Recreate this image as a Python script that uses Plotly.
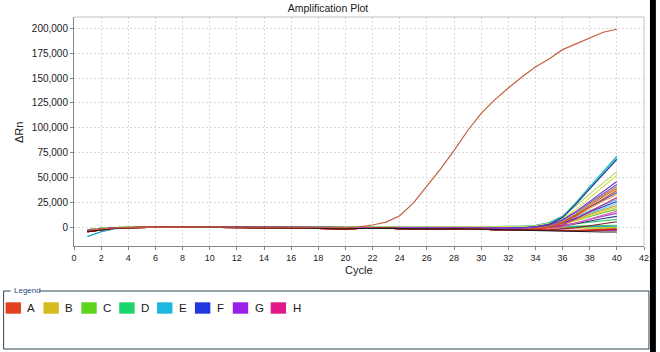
import plotly.graph_objects as go

# ---------------- data ----------------
CYCLES = [1, 2, 3, 4, 5, 6, 7, 8, 9, 10, 11, 12, 13, 14, 15, 16, 17, 18, 19, 20,
          21, 22, 23, 24, 25, 26, 27, 28, 29, 30, 31, 32, 33, 34, 35, 36, 37, 38, 39, 40]

# the strongly amplifying well
BIG_CURVE = [-2500, -1200, -500, -100, 100, 200, 200, 200, 200, 200, 200, 200, 0, 0, -100, -100,
             -100, -300, -300, -200, 500, 2300, 5200, 11600, 24200, 41000, 58500, 77000, 97000,
             114500, 128000, 140000, 151000, 161000, 169000, 178500, 184500, 190500, 196000, 199000]
BIG_COLOR = "#c4603e"

# baselines, cycles 1-32
BASE_LOW = [-4500, -2400, -1000, -300, 0, 100, 100, 0, 0, 0, 0, 0, -300, -400, -400, -500, -600,
            -1200, -1600, -1700, -1200, -900, -900, -1300, -1700, -1900, -1800, -1500, -1400,
            -1900, -2300, -2600]
BASE_MID = [-3300, -1700, -600, -200, 0, 100, 100, 100, 100, 50, 0, 0, -100, -200, -200, -200,
            -300, -500, -700, -700, -500, -300, -300, -400, -600, -600, -600, -500, -400, -600,
            -800, -900]
BASE_HIGH = [-2600, -1000, -300, 0, 200, 200, 200, 200, 200, 200, 200, 200, 100, 0, 0, 0, 0, 100,
             100, 100, 200, 300, 300, 300, 300, 400, 400, 400, 500, 600, 800, 700]
BASE_DIP = [-9200, -4400, -1500, -400, 0, 100, 100, 100, 100, 100, 100, 100, 0, 0, 0, 0, 0, -100,
            -100, -100, 0, 100, 100, 100, 100, 200, 200, 200, 300, 400, 500, 400]
BASES = {"low": BASE_LOW, "mid": BASE_MID, "high": BASE_HIGH, "dip": BASE_DIP}

# late wells per row: colour, baseline, values for cycles 33-40
ROW_A = [("#e07828", "low", [-2300, -1200, 1000, 5500, 13500, 23500, 32500, 41000]),
         ("#b86a30", "low", [-2400, -1500, 500, 5000, 12500, 22000, 31000, 39000]),
         ("#e04820", "low", [-2500, -1700, 0, 4200, 11500, 20500, 29000, 37000]),
         ("#7c2030", "low", [-2700, -2800, -2600, -1800, -300, 1500, 3500, 5600]),
         ("#e02818", "low", [-2800, -3000, -3100, -3100, -2900, -2500, -2000, -1500]),
         ("#c82010", "low", [-2800, -3000, -3300, -3500, -3400, -3200, -2900, -2500])]
ROW_B = [("#d8e040", "high", [500, 1500, 3800, 8800, 18000, 29500, 41000, 52000]),
         ("#f0a030", "mid", [-700, 0, 1500, 4800, 11000, 19000, 26500, 33000]),
         ("#b0a020", "mid", [-600, -100, 1000, 3200, 7500, 13000, 17800, 22000]),
         ("#e0d030", "mid", [-600, -100, 900, 2900, 6800, 11800, 16200, 20000]),
         ("#d8c818", "mid", [-800, -800, -800, -900, -700, -500, -300, 0])]
ROW_C = [("#a8e060", "high", [800, 2000, 4800, 11000, 21500, 33500, 45000, 56000]),
         ("#60c840", "high", [700, 1000, 1800, 3600, 6800, 10800, 14600, 18000]),
         ("#70e030", "high", [700, 700, 700, 700, 800, 900, 900, 1000]),
         ("#58d018", "high", [500, 300, 100, -200, -500, -700, -900, -1000])]
ROW_D = [("#40d070", "high", [700, 900, 1300, 2200, 3600, 5200, 6700, 8000]),
         ("#30c860", "high", [700, 800, 900, 1000, 1200, 1400, 1700, 2000]),
         ("#20c050", "high", [600, 600, 500, 500, 500, 500, 500, 500]),
         ("#40e090", "high", [500, 300, 100, -100, -200, -300, -400, -500])]
ROW_E = [("#22b4b4", "dip", [600, 1800, 4500, 11000, 25000, 41000, 56500, 71600]),
         ("#30c8e8", "high", [800, 1700, 4000, 10000, 23500, 39500, 55000, 70000]),
         ("#40b0e0", "high", [800, 1300, 2600, 5500, 10500, 16500, 22500, 28000]),
         ("#70c8f0", "high", [700, 1100, 2200, 4700, 9000, 14200, 19300, 24000]),
         ("#20a8d8", "dip", [400, 400, 400, 500, 600, 700, 800, 1000])]
ROW_F = [("#1c2c80", "mid", [-600, 400, 3000, 9800, 23500, 38500, 53500, 68300]),
         ("#4060e0", "mid", [-700, 300, 2500, 7000, 15000, 24500, 34000, 43000]),
         ("#3050d8", "mid", [-700, 100, 1700, 5500, 12500, 20500, 28000, 35000]),
         ("#2040d0", "mid", [-700, 0, 1200, 4000, 9200, 15300, 21000, 26000]),
         ("#283890", "mid", [-900, -600, 0, 1200, 3500, 6300, 8800, 11000])]
ROW_G = [("#7030c0", "mid", [-700, 400, 2800, 7600, 16000, 26000, 36000, 46000]),
         ("#a040e0", "mid", [-900, -500, 300, 1700, 4500, 8000, 11200, 14000]),
         ("#9020d0", "low", [-2800, -3000, -3200, -3400, -3500, -3400, -3200, -3000])]
ROW_H = [("#d02080", "low", [-2500, -1900, -500, 2500, 8500, 15500, 23000, 30000]),
         ("#e060a0", "low", [-2700, -2400, -1500, 400, 4000, 8200, 12300, 16000]),
         ("#e01890", "low", [-2800, -3100, -3500, -3800, -3700, -3300, -2700, -2000])]
OTHER = [("#202020", "low", [-3000, -3500, -4000, -4400, -4700, -4800, -4800, -4800])]

LEGEND_LABELS = ["A", "B", "C", "D", "E", "F", "G", "H"]
LEGEND_COLORS = ["#e2401e", "#d4bc1c", "#5cd41c", "#1cd46c", "#1cb8e0", "#2038e0", "#9a20e8", "#e0188c"]

Y_TICKS = [0, 25000, 50000, 75000, 100000, 125000, 150000, 175000, 200000]

# ---------------- figure ----------------
fig = go.Figure()
for row in [ROW_D, ROW_C, ROW_E, ROW_B, ROW_F, ROW_G, ROW_H, ROW_A, OTHER]:
    for color, base, tail in row:
        fig.add_trace(go.Scatter(x=CYCLES, y=BASES[base] + tail, mode="lines",
                                 line=dict(color=color, width=1.1), hoverinfo="skip",
                                 showlegend=False))
fig.add_trace(go.Scatter(x=CYCLES, y=BIG_CURVE, mode="lines",
                         line=dict(color=BIG_COLOR, width=1.2), hoverinfo="skip",
                         showlegend=False))

W, H = 660, 352
L, R, T, B = 74, 649, 17, 246


def px(xp):
    return (xp - L) / (R - L)


def py(yp):
    return (B - yp) / (B - T)


FONT = "Arial, Liberation Sans, sans-serif"
shapes = []
annotations = []

# lighter top/right frame
shapes.append(dict(type="line", xref="paper", yref="paper", x0=0, x1=1, y0=1, y1=1,
                   line=dict(color="#c4c4c4", width=1)))
shapes.append(dict(type="line", xref="paper", yref="paper", x0=1, x1=1, y0=0, y1=1,
                   line=dict(color="#c4c4c4", width=1)))

# legend fieldset
bc = "#2e4656"
lx0, lx1, ly0, ly1 = 3, 654, 291, 349
for (a, b, c, d) in [(lx0, ly0, lx0, ly1), (lx0, ly1, lx1, ly1), (lx1, ly1, lx1, ly0),
                     (lx0, ly0, 10, ly0), (39, ly0, lx1, ly0)]:
    shapes.append(dict(type="line", xref="paper", yref="paper", x0=px(a), y0=py(b),
                       x1=px(c), y1=py(d), line=dict(color=bc, width=1)))
annotations.append(dict(text="Legend", xref="paper", yref="paper", x=px(11.5), y=py(290.5),
                        xanchor="left", yanchor="middle", showarrow=False,
                        font=dict(size=8, color="#2a4a7a", family=FONT)))

for i, (lab, col) in enumerate(zip(LEGEND_LABELS, LEGEND_COLORS)):
    x0 = 5 + i * 38.2
    shapes.append(dict(type="rect", xref="paper", yref="paper", x0=px(x0), x1=px(x0 + 15.5),
                       y0=py(313.7), y1=py(302.3), fillcolor=col, line=dict(width=0)))
    annotations.append(dict(text=lab, xref="paper", yref="paper", x=px(x0 + 20), y=py(308.2),
                            xanchor="left", yanchor="middle", showarrow=False,
                            font=dict(size=11.5, color="#1a1a1a", family=FONT)))

# axis titles
annotations.append(dict(text="ΔRn", xref="paper", yref="paper", x=px(18.5), y=py(132),
                        xanchor="center", yanchor="middle", textangle=-90, showarrow=False,
                        font=dict(size=11, color="#1a1a1a", family=FONT)))
annotations.append(dict(text="Cycle", xref="paper", yref="paper", x=px(361), y=py(270),
                        xanchor="center", yanchor="middle", showarrow=False,
                        font=dict(size=11, color="#1a1a1a", family=FONT)))

# dark strip at right edge of the screenshot
shapes.append(dict(type="rect", xref="paper", yref="paper", x0=px(655), x1=px(661),
                   y0=py(353), y1=py(-1), fillcolor="#000000", line=dict(width=0), layer="above"))

grid = dict(showgrid=True, gridcolor="#dadada", gridwidth=1, griddash="2px,2px", zeroline=False,
            showline=True, linecolor="#858585", linewidth=1, ticks="outside", ticklen=3,
            tickcolor="#858585")

fig.update_layout(
    width=W, height=H, margin=dict(l=L, r=W - R, t=T, b=H - B),
    paper_bgcolor="white", plot_bgcolor="white", showlegend=False,
    font=dict(family=FONT, color="#1a1a1a"),
    title=dict(text="Amplification Plot", x=0.497, xref="container", xanchor="center",
               y=1 - 8 / H, yref="container", yanchor="middle",
               font=dict(size=10.5, color="#1a1a1a", family=FONT)),
    xaxis=dict(range=[0, 42], tickmode="linear", tick0=0, dtick=2, tickfont=dict(size=9),
               **grid),
    yaxis=dict(range=[-18800, 211300], tickmode="array", tickvals=Y_TICKS,
               tickformat=",d", tickfont=dict(size=10), **grid),
    shapes=shapes, annotations=annotations,
)

fig.write_html("out.html")
